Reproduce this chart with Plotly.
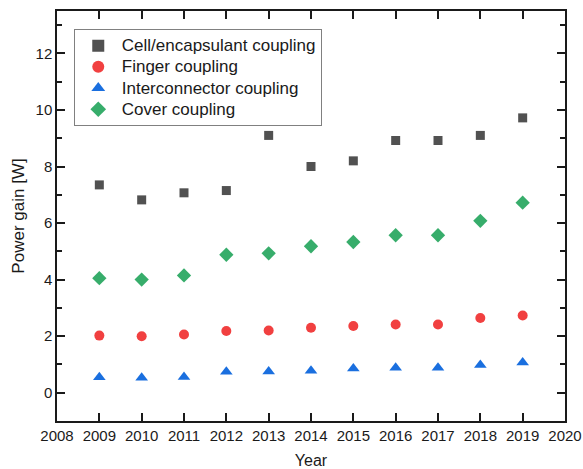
import plotly.graph_objects as go

years = [2009, 2010, 2011, 2012, 2013, 2014, 2015, 2016, 2017, 2018, 2019]
cell_encapsulant = [7.35, 6.82, 7.07, 7.15, 9.10, 8.00, 8.20, 8.92, 8.92, 9.10, 9.72]
finger = [2.02, 2.00, 2.06, 2.18, 2.20, 2.30, 2.36, 2.41, 2.41, 2.64, 2.73]
interconnector = [0.55, 0.53, 0.56, 0.74, 0.75, 0.78, 0.86, 0.88, 0.88, 0.98, 1.07]
cover = [4.05, 4.00, 4.15, 4.88, 4.93, 5.18, 5.33, 5.57, 5.57, 6.08, 6.72]

series_names = ["Cell/encapsulant coupling", "Finger coupling",
                "Interconnector coupling", "Cover coupling"]
series_values = [cell_encapsulant, finger, interconnector, cover]
colors = ["#515151", "#F14040", "#1A6FDF", "#37AD6B"]
symbols = ["square", "circle", "triangle-up", "diamond"]
sizes = [9, 10, 11, 11]

fig = go.Figure()
for name, vals, c, s, sz in zip(series_names, series_values, colors, symbols, sizes):
    fig.add_trace(go.Scatter(x=years, y=vals, mode="markers",
                             name='<span style="font-size:17px">' + name + '</span>',
                             marker=dict(symbol=s, color=c, size=sz, line=dict(width=0))))

FAM = "Liberation Sans, Arial, sans-serif"
INK = "#1a1a1a"
tick_font = dict(family=FAM, size=15, color=INK)
axis_common = dict(showline=True, linecolor=INK, linewidth=1.5, mirror="ticks",
                   ticks="inside", ticklen=8, tickwidth=1.5, tickcolor=INK,
                   showgrid=False, zeroline=False, tickfont=tick_font, automargin=False)

fig.update_layout(
    width=583, height=469,
    margin=dict(l=57, r=18, t=11, b=48),
    paper_bgcolor="white", plot_bgcolor="white",
    font=tick_font,
    showlegend=True,
    legend=dict(x=0.033, y=0.956, xanchor="left", yanchor="top",
                bordercolor="#808080", borderwidth=1, bgcolor="white",
                font=dict(family=FAM, size=14, color=INK),
                tracegroupgap=0, itemsizing="constant", itemwidth=37),
    xaxis=dict(range=[2008, 2020], tickmode="linear", tick0=2008, dtick=1,
               title=dict(text="Year", font=dict(family=FAM, size=16, color=INK), standoff=13),
               **axis_common),
    yaxis=dict(range=[-1, 13.5], tickmode="linear", tick0=0, dtick=2,
               minor=dict(ticks="inside", ticklen=5, tickwidth=1.5, tickcolor=INK,
                          dtick=1, tick0=0, showgrid=False),
               title=dict(text="Power gain [W]", font=dict(family=FAM, size=17, color=INK), standoff=7),
               **axis_common),
)

post = ("document.documentElement.style.margin='0';"
        "document.documentElement.style.overflow='hidden';"
        "document.body.style.margin='0';"
        "document.body.style.overflow='hidden';")
fig.write_html("out.html", config={"displayModeBar": False}, post_script=post)
